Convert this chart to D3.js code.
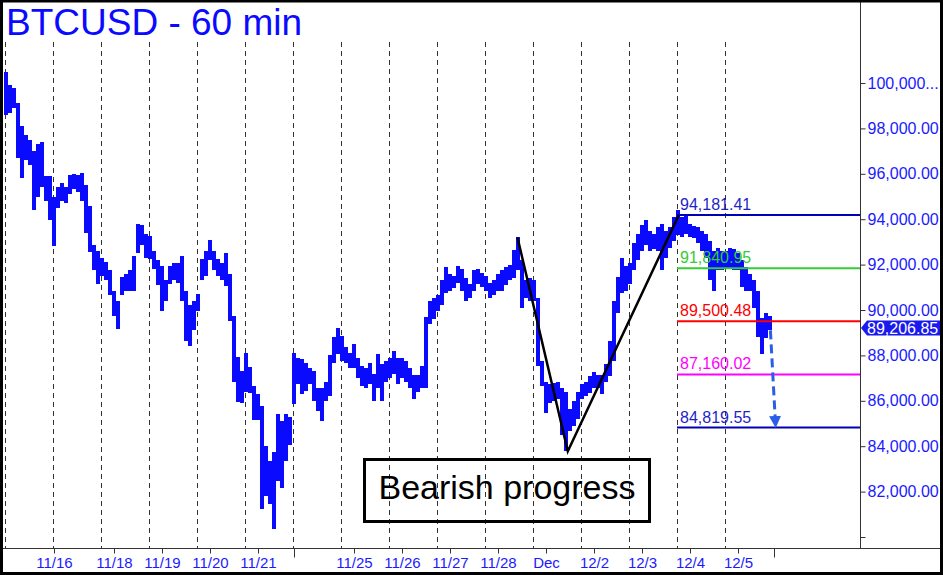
<!DOCTYPE html>
<html>
<head>
<meta charset="utf-8">
<script src="https://cdn.jsdelivr.net/npm/d3@7"></script>
<style>
  body { margin: 0; background: #fff; }
  #chart svg { display: block; font-family: "Liberation Sans", Arial, sans-serif; }
</style>
</head>
<body>
<div id="chart"></div>
<script>
// 60 minute BTCUSD chart, bars grouped in 2-hour steps (high / low)

const barHigh = [100500,99900,99800,99100,98100,97700,97500,97000,97300,97400,
  95900,95900,95000,95400,95600,95400,95950,96000,95950,96050,
  95500,94600,92850,92600,92300,92100,91750,90850,90400,91450,
  91600,91750,92400,93800,93750,93350,93250,92600,92200,91950,
  91300,91950,92050,92050,92400,90850,90200,90400,90700,92250,
  92600,93100,92600,92250,92050,92500,91600,89750,87950,87300,
  88100,87500,86650,86300,85750,84000,83350,83750,85400,85100,
  85400,85300,88100,87900,87850,87650,87450,87300,86550,86550,
  86850,88000,88800,89200,88850,88350,88100,88500,87900,87550,
  87450,87650,87200,88050,87600,87750,87900,88200,87900,87900,
  87750,87450,87150,87150,87550,89700,90400,90550,90650,91300,
  91900,91600,91500,91950,91800,91400,91150,91750,91800,91650,
  91500,91200,91300,91600,91750,91900,92000,92650,93200,92200,
  91300,91400,91300,90550,87750,86850,86750,86800,86850,86550,
  86400,85650,86000,86400,86750,86850,87100,87250,87150,87150,
  87600,88650,90400,91450,92300,91950,92050,92950,93350,93750,
  93950,93500,93350,93650,93800,93500,93650,94100,94400,94100,
  94150,93800,93700,93650,93500,93350,93050,92600,92750,92600,
  92600,92750,92700,92500,92200,91900,91600,91300,90850,89650,
  89850,89750];

const barLow = [98600,98700,98900,96700,95800,96600,96400,94400,95000,95400,
  94800,93950,92800,94500,94800,94700,95100,95350,95200,94800,
  93400,92550,91750,91150,91500,91300,90650,89750,89150,90650,
  90850,90850,90850,92500,92850,92300,92250,91800,91100,89950,
  90400,91150,91300,91200,90400,88650,88400,89100,89950,91300,
  91500,92200,91750,91500,91300,91050,89500,86850,85950,85900,
  86400,86350,85150,85150,81250,81800,81450,80350,82450,82150,
  83350,84050,85850,86750,86300,86450,86750,86000,85550,85100,
  86000,86200,87650,88050,87750,87650,87450,87450,87000,86650,
  86550,86750,86000,86550,86000,86850,87000,87200,86750,87000,
  86850,86550,86100,86400,86550,86550,89400,89600,89950,90200,
  90750,90850,90950,91200,90850,90400,90550,90850,91150,91000,
  90850,90550,90650,90850,90850,91100,91300,91400,91750,90100,
  90550,90400,90400,87550,86650,85450,85900,86000,86100,84500,
  83800,84650,84900,85200,86100,86200,86350,86550,86550,86300,
  86850,87100,87750,89850,90750,90850,91150,91750,92200,92600,
  92850,92600,92700,92600,91750,92300,92750,93050,93300,93200,
  93350,93200,93150,92950,92600,92300,91300,90850,91750,91750,
  91800,91850,91750,91750,91000,90850,90850,90100,88800,88050,
  88750,89100];

// date labels on the time axis (hour position of each tick)
const tickHours = [25, 55, 79, 103, 127, 175, 199, 223, 247, 271, 295, 319, 343, 367];
const tickLabels = ["11/16","11/18","11/19","11/20","11/21","11/25","11/26","11/27","11/28","Dec","12/2","12/3","12/4","12/5"];
const markHours = [145, 385];

// price axis
const priceTicks = [80000,82000,84000,86000,88000,90000,92000,94000,96000,98000,100000];
const priceLabels = ["","82,000.00","84,000.00","86,000.00","88,000.00","90,000.00","92,000.00","94,000.00","96,000.00","98,000.00","100,000..."];

// target levels drawn on the right
const levelValues = [94181.41, 91840.95, 89500.48, 87160.02, 84819.55];
const levelLabels = ["94,181.41","91,840.95","89,500.48","87,160.02","84,819.55"];
const levelColors = ["#0000b4","#33cc33","#ff0000","#ff00ff","#0000b4"];
const levelTextColors = ["#1f1fc8","#33cc33","#ff0000","#ff00ff","#1f1fc8"];

// zig-zag pattern (hour, price) and projected move
const zigHours = [256.75, 281.9, 337.4];
const zigPrices = [93190, 83780, 94181.41];
const arrowHours = [383.2, 385.8];
const arrowPrices = [89100, 84819.55];

const lastPrice = 89206.85;

const width = 943, height = 575;
const svg = d3.select("#chart")
  .append("svg")
  .attr("width", width)
  .attr("height", height);

const xScale = d3.scaleLinear().domain([0, 384]).range([4, 772]);
const yScale = d3.scaleLinear().domain([80000, 100000]).range([537, 83]);

const axisY = 548, axisX = 860;

// dashed day grid lines
const gridHours = d3.range(0.75, 362, 24);
svg.append("g")
  .selectAll("line")
  .data(gridHours)
  .enter()
  .append("line")
    .attr("x1", d => Math.round(xScale(d)) - 0.5)
    .attr("x2", d => Math.round(xScale(d)) - 0.5)
    .attr("y1", 42)
    .attr("y2", axisY)
    .attr("stroke", "#333")
    .attr("stroke-width", 1)
    .attr("stroke-dasharray", "5,4");

// price bars
svg.append("g")
  .attr("shape-rendering", "crispEdges")
  .selectAll("rect")
  .data(barHigh)
  .enter()
  .append("rect")
    .attr("x", (d, i) => xScale(2 * i))
    .attr("width", (d, i) => xScale(2 * i + 2) - xScale(2 * i))
    .attr("y", d => yScale(d))
    .attr("height", (d, i) => Math.max(2, yScale(barLow[i]) - yScale(d)))
    .attr("fill", "#0a0aff");

// level lines and their labels
levelValues.forEach((v, i) => {
  svg.append("line")
    .attr("x1", xScale(336.5))
    .attr("x2", axisX)
    .attr("y1", yScale(v))
    .attr("y2", yScale(v))
    .attr("stroke", levelColors[i])
    .attr("stroke-width", 2);
  svg.append("text")
    .attr("x", xScale(336.5) + 3)
    .attr("y", yScale(v) - 5)
    .attr("font-size", "16px")
    .attr("fill", levelTextColors[i])
    .text(levelLabels[i]);
});

// zig-zag lines
const zig = d3.line()
  .x((d, i) => xScale(zigHours[i]))
  .y(d => yScale(d));
svg.append("path")
  .attr("d", zig(zigPrices))
  .attr("fill", "none")
  .attr("stroke", "#000")
  .attr("stroke-width", 2.5);

// dashed projection arrow
svg.append("defs").append("marker")
  .attr("id", "head")
  .attr("viewBox", "0 0 10 10")
  .attr("refX", 8).attr("refY", 5)
  .attr("markerWidth", 4).attr("markerHeight", 4)
  .attr("markerUnits", "strokeWidth")
  .attr("orient", "auto")
  .append("path")
    .attr("d", "M0,0 L10,5 L0,10 Z")
    .attr("fill", "#2a5de8");
svg.append("line")
  .attr("x1", xScale(arrowHours[0]))
  .attr("y1", yScale(arrowPrices[0]))
  .attr("x2", xScale(arrowHours[1]))
  .attr("y2", yScale(arrowPrices[1]) - 2)
  .attr("stroke", "#2a5de8")
  .attr("stroke-width", 3)
  .attr("stroke-dasharray", "9,5")
  .attr("marker-end", "url(#head)");

// annotation box
svg.append("rect")
  .attr("x", 364.5).attr("y", 459.5)
  .attr("width", 285).attr("height", 62)
  .attr("fill", "none")
  .attr("stroke", "#000")
  .attr("stroke-width", 3);
svg.append("text")
  .attr("x", 507).attr("y", 499)
  .attr("text-anchor", "middle")
  .attr("font-size", "34px")
  .attr("fill", "#000")
  .text("Bearish progress");

// axis lines
svg.append("line")
  .attr("x1", 3).attr("x2", width)
  .attr("y1", axisY + 0.5).attr("y2", axisY + 0.5)
  .attr("stroke", "#333");
svg.append("line")
  .attr("x1", axisX + 0.5).attr("x2", axisX + 0.5)
  .attr("y1", 0).attr("y2", axisY)
  .attr("stroke", "#333");

// time axis
const xAxis = svg.append("g")
  .attr("transform", `translate(0,${axisY + 0.5})`)
  .call(d3.axisBottom(xScale)
    .tickValues(tickHours)
    .tickFormat((d, i) => tickLabels[i])
    .tickSize(5)
    .tickPadding(4));
xAxis.select(".domain").remove();
xAxis.selectAll("line").attr("stroke", "#333");
xAxis.selectAll("text")
  .attr("font-size", "15px")
  .attr("font-family", "Liberation Sans, Arial, sans-serif")
  .attr("fill", "#1a1aff");

const xMarks = svg.append("g")
  .attr("transform", `translate(0,${axisY + 0.5})`)
  .call(d3.axisBottom(xScale).tickValues(markHours).tickFormat("").tickSize(9));
xMarks.select(".domain").remove();
xMarks.selectAll("line").attr("stroke", "#333");

// price axis
const yAxis = svg.append("g")
  .attr("transform", `translate(${axisX + 0.5},0)`)
  .call(d3.axisRight(yScale)
    .tickValues(priceTicks)
    .tickFormat((d, i) => priceLabels[i])
    .tickSize(5)
    .tickPadding(2));
yAxis.select(".domain").remove();
yAxis.selectAll("line").attr("stroke", "#333");
yAxis.selectAll("text")
  .attr("font-size", "16px")
  .attr("font-family", "Liberation Sans, Arial, sans-serif")
  .attr("fill", "#1a1aff");

// last price tag
const tagY = yScale(lastPrice);
svg.append("path")
  .attr("d", `M${axisX + 1},${tagY} L${axisX + 7},${tagY - 7.5} L940,${tagY - 7.5} L940,${tagY + 7.5} L${axisX + 7},${tagY + 7.5} Z`)
  .attr("fill", "#1a1aee");
svg.append("text")
  .attr("x", axisX + 7).attr("y", tagY + 6)
  .attr("font-size", "16px")
  .attr("fill", "#fff")
  .text(d3.format(",.2f")(lastPrice));

// title
svg.append("text")
  .attr("x", 6).attr("y", 35)
  .attr("font-size", "37px")
  .attr("fill", "#0a0aff")
  .text("BTCUSD - 60 min");

// outer frame
svg.append("rect")
  .attr("x", 1.5).attr("y", 1).attr("width", width - 3).attr("height", height - 2.5)
  .attr("fill", "none")
  .attr("stroke", "#000")
  .attr("stroke-width", 3);
</script>
</body>
</html>
